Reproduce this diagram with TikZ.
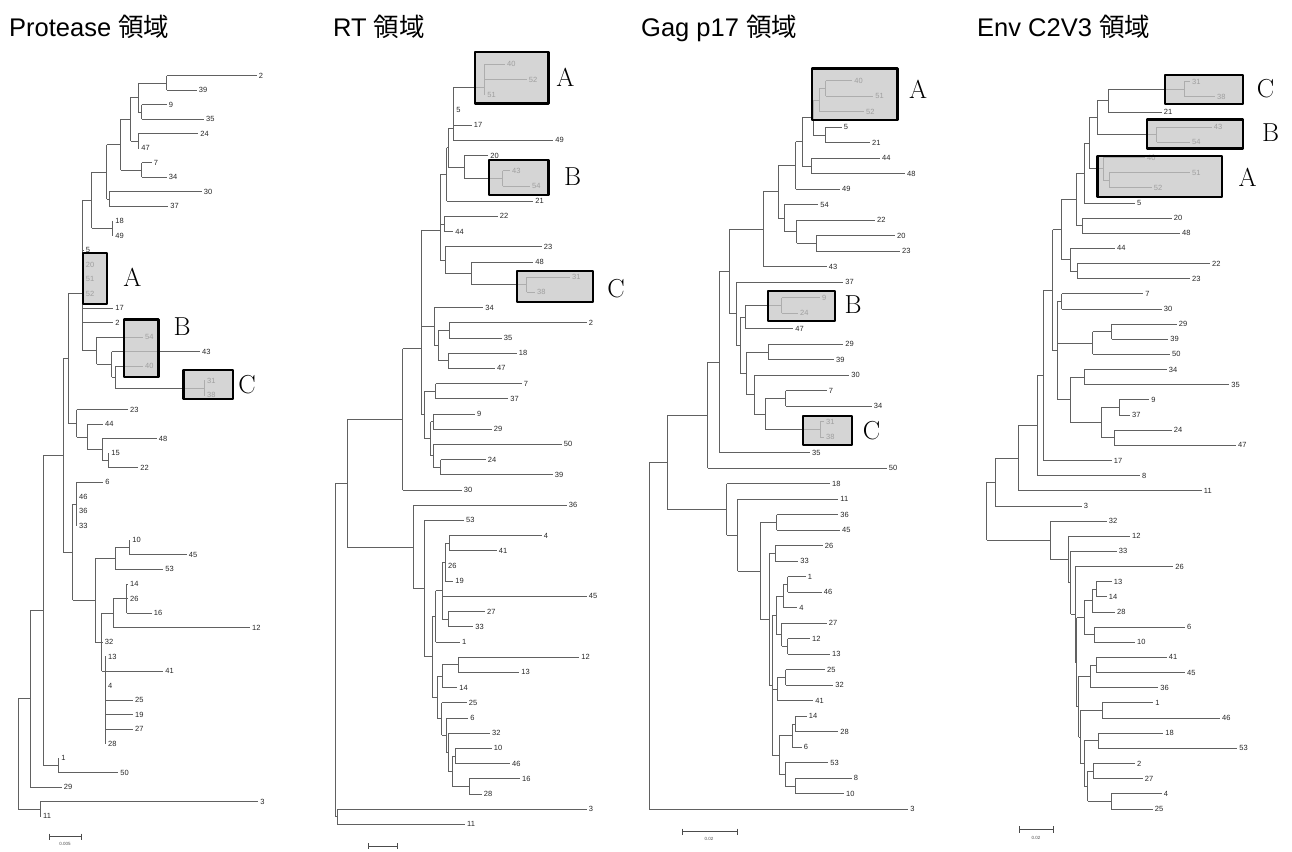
\documentclass[tikz,border=0pt]{standalone}
\usepackage{fontspec}
\setsansfont{Liberation Sans}
\newfontfamily\jpfont{Noto Sans CJK JP}
\usepackage{tikz}

% one tip per entry: x of parent / x of tip / row / label
\newcommand{\tipset}[1]{%
  \foreach \xa/\xb/\i/\t in {#1}{\draw[branch] (\xa,\i) -- (\xb,\i) node[tip] (\tree-\i) {\t};}}
% one clade per entry: x / first row / last row / stem row / x of parent
\newcommand{\cladeset}[1]{%
  \foreach \x/\ya/\yb/\ys/\xp in {#1}{\draw[branch] (\x,\ya) -- (\x,\yb) (\xp,\ys) -- (\x,\ys);}}
\newcommand{\ryoiki}{{\jpfont 領域}}

\begin{document}
\begin{tikzpicture}[x=1pt,y=-1pt,line join=round,
    branch/.style={draw=black!62,line width=0.75pt},
    tip/.style={anchor=west,inner sep=1.8pt,text=black!85,font=\sffamily\fontsize{7.5}{8}\selectfont},
    cladebox/.style={draw=black,line width=2.4pt,fill=black!22,fill opacity=0.75},
    cladeletter/.style={font=\rmfamily\fontsize{26}{26}\selectfont},
    paneltitle/.style={anchor=base west,inner sep=0pt,font=\sffamily\fontsize{25.5}{26}\selectfont},
    scalebar/.style={|-|,draw=black!70,line width=0.6pt},
    scalelabel/.style={inner sep=0pt,text=black!70,font=\sffamily\fontsize{4.5}{5}\selectfont}]
  \useasboundingbox (0,0) rectangle (1292,851);
  % panel titles
  \node[paneltitle] (t1) at (9,37)   {Protease \ryoiki};
  \node[paneltitle] (t2) at (333,37) {RT \ryoiki};
  \node[paneltitle] (t3) at (641,37) {Gag p17 \ryoiki};
  \node[paneltitle] (t4) at (977,37) {Env C2V3 \ryoiki};

  % Protease tree
  \begin{scope}[yshift=-75.7pt,y=-14.52pt]
    \def\tree{pr}
    \tipset{166.7/256.7/0/2, 166.7/196.7/1/39, 141.7/166.7/2/9, 141.7/204/3/35, 138.3/198.3/4/24,
      138.3/139.3/5/47, 141.7/151.7/6/7, 141.7/166.7/7/34, 109/201.7/8/30, 109/168.3/9/37,
      112.3/113.3/10/18, 112.3/113.3/11/49, 82.7/83.7/12/5, 82.7/83.7/13/20, 82.7/83.7/14/51,
      82.7/83.7/15/52, 82.7/113.3/16/17, 82.7/113.3/17/2, 96.7/143/18/54, 111.7/200/19/43,
      115/143/20/40, 204/205/21/31, 204/205/22/38, 76.7/128/23/23, 87.7/103/24/44,
      102.3/156.7/25/48, 108.3/109.3/26/15, 108.3/138.3/27/22, 76/103.3/28/6, 76/77/29/46,
      76/77/30/36, 76/77/31/33, 129.3/130.3/32/10, 129.3/186.7/33/45, 115/163.3/34/53,
      126.7/128/35/14, 126.7/128/36/26, 126.7/151.7/37/16, 113.3/250/38/12, 101.7/102.7/39/32,
      105/106/40/13, 105/163.3/41/41, 105/106/42/4, 105/133/43/25, 105/133/44/19,
      105/133/45/27, 105/106/46/28, 58.3/59.3/47/1, 58.3/118.3/48/50, 30/61.7/49/29,
      40/258.3/50/3, 40/41/51/11}
    \cladeset{166.7/0/1/0.5/138.3, 141.7/2/3/2.5/138.3, 138.3/0.5/2.5/1.5/130.7, 138.3/4/5/4.5/130.7,
      130.7/1.5/4.5/3/120.7, 141.7/6/7/6.5/120.7, 120.7/3/6.5/4.75/106.7, 109/8/9/8.5/106.7,
      106.7/4.75/8.5/6.625/91.7, 112.3/10/11/10.5/91.7, 91.7/6.625/10.5/8.5625/82.7,
      204/21/22/21.5/115, 115/20/21.5/20.75/111.7, 111.7/19/20.75/19.875/96.7,
      96.7/18/19.875/18.9375/82.7, 82.7/8.5625/18.9375/14.97/68.3, 108.3/26/27/26.5/102.3,
      102.3/25/26.5/25.75/87.7, 87.7/24/25.75/24.875/76.7, 76.7/23/24.875/23.94/68.3,
      68.3/14.97/23.94/19.46/63.3, 76/28/31/29.5/72.7, 129.3/32/33/32.5/115,
      115/32.5/34/33.25/95, 126.7/35/37/36/113.3, 113.3/36/38/37/101.7, 105/40/46/41/101.7,
      101.7/37/41/39/95, 95/33.25/39/36.125/72.7, 72.7/29.5/36.125/32.81/63.3,
      63.3/19.46/32.81/26.14/43.3, 58.3/47/48/47.5/43.3, 43.3/26.14/47.5/36.82/30,
      30/36.82/49/42.91/18.3, 40/50/51/50.5/18.3, 18.3/42.91/50.5/46.7/18.3}
  \end{scope}

  % RT tree
  \begin{scope}[yshift=-64.3pt,y=-15.2pt]
    \def\tree{rt}
    \tipset{484.3/505/0/40, 484.3/526.7/1/52, 484.3/485.3/2/51, 453.3/454.3/3/5, 453.3/471.7/4/17,
      453.3/553.3/5/49, 464/488.3/6/20, 502.7/510/7/43, 502.7/530/8/54, 446.7/533.3/9/21,
      444.3/497.7/10/22, 444.3/453.3/11/44, 445/541.7/12/23, 471.7/533.3/13/48, 526.7/570/14/31,
      526.7/535/15/38, 434.3/483.3/16/34, 449.3/586.7/17/2, 449.3/501.7/18/35, 448.3/516.7/19/18,
      448.3/495/20/47, 435.7/521.7/21/7, 435.7/508.3/22/37, 433.3/475/23/9, 433.3/491.7/24/29,
      433.3/561.7/25/50, 440.7/485.7/26/24, 440.7/552.7/27/39, 402.7/461.7/28/30, 413.3/566.7/29/36,
      424.3/464/30/53, 449/541.7/31/4, 449/496.7/32/41, 445/446/33/26, 445/453.3/34/19,
      442.3/586.7/35/45, 448.3/485/36/27, 448.3/473.3/37/33, 435.7/460/38/1, 458.3/579.3/39/12,
      458.3/519.3/40/13, 442.3/457.3/41/14, 441.7/466.7/42/25, 446/468.3/43/6, 448.3/490/44/32,
      455/491.7/45/10, 455/510/46/46, 469.3/520/47/16, 469.3/481.7/48/28, 337.3/586.7/49/3,
      337.3/465/50/11}
    \cladeset{484.3/0/2/1.5/453.3, 453.3/1.5/5/4.2/448.3, 502.7/7/8/7.5/464, 464/6/7.5/6.75/448.3,
      448.3/4.2/6.75/5.475/446.7, 446.7/5.475/9/7.24/440, 444.3/10/11/10.5/440,
      526.7/14/15/14.5/471.7, 471.7/13/14.5/13.75/445, 445/12/13.75/12.875/440,
      440/7.24/12.875/10.9/421.7, 449.3/17/18/17.5/438.3, 448.3/19/20/19.5/438.3,
      438.3/17.5/19.5/18.5/434.3, 434.3/16/18.5/17.25/421.7, 435.7/21/22/21.5/424.3,
      433.3/23/24/23.5/430.7, 440.7/26/27/26.5/433.3, 433.3/25/26.5/25.75/430.7,
      430.7/23.5/25.75/24.625/424.3, 424.3/21.5/24.625/23.06/421.7, 421.7/10.9/23.06/18.7/402.7,
      402.7/18.7/28/23.35/347.3, 449/31/32/31.5/445, 445/31.5/34/32.75/442.3,
      448.3/36/37/36.5/442.3, 442.3/32.75/36.5/34.625/435.7, 435.7/34.625/38/36.31/432.3,
      458.3/39/40/39.5/442.3, 442.3/39.5/41/40.25/437.7, 455/45/46/45.5/452.3,
      469.3/47/48/47.5/452.3, 452.3/45.5/47.5/46.5/448.3, 448.3/44/46.5/45.25/446,
      446/43/45.25/44.125/441.7, 441.7/42/44.125/43.06/437.7, 437.7/40.25/43.06/41.66/432.3,
      432.3/36.31/41.66/38.98/424.3, 424.3/30/38.98/34.49/413.3, 413.3/29/34.49/31.75/347.3,
      347.3/23.35/31.75/27.55/335.7, 337.3/49/50/49.5/335.7, 335.7/27.55/49.5/38.5/335.7}
  \end{scope}

  % Gag p17 tree
  \begin{scope}[yshift=-80.7pt,y=-15.5pt]
    \def\tree{gag}
    \tipset{825.7/852.3/0/40, 825.7/873.3/1/51, 819/864/2/52, 825/841.7/3/5, 825/870/4/21,
      811.7/880/5/44, 811.7/905/6/48, 795.7/840/7/49, 784/818.3/8/54, 796.7/875/9/22,
      816/895/10/20, 816/900/11/23, 763.3/826.7/12/43, 736/843.3/13/37, 781.7/820/14/9,
      781.7/798/15/24, 745.3/793.3/16/47, 768.3/843.3/17/29, 768.3/834/18/39, 754.3/849.3/19/30,
      785.7/826.7/20/7, 785.7/871.7/21/34, 820/824/22/31, 820/824/23/38, 719.3/810/24/35,
      707.7/886.7/25/50, 726.7/830/26/18, 737.7/838.3/27/11, 776.7/838.3/28/36, 776.7/840/29/45,
      775/822.7/30/26, 775/798.3/31/33, 787.7/805.7/32/1, 787.7/821.7/33/46, 783.3/797.3/34/4,
      781.7/826.7/35/27, 787.7/810/36/12, 787.7/830/37/13, 785.7/825/38/25, 785.7/833.3/39/32,
      777.7/813.3/40/41, 795.7/806.7/41/14, 795.7/838.3/42/28, 792.3/801.7/43/6, 785/828.3/44/53,
      795/851.7/45/8, 795/844/46/10, 649/908.3/47/3}
    \cladeset{825.7/0/1/0.5/819, 819/0.5/2/1.25/813.3, 825/3/4/3.5/813.3, 813.3/1.25/3.5/2.375/802.3,
      811.7/5/6/5.5/802.3, 802.3/2.375/5.5/3.94/795.7, 795.7/3.94/7/5.47/778.3,
      816/10/11/10.5/796.7, 796.7/9/10.5/9.75/784, 784/8/9.75/8.875/778.3,
      778.3/5.47/8.875/7.17/763.3, 763.3/7.17/12/9.59/729, 781.7/14/15/14.5/745.3,
      745.3/14.5/16/15.25/740, 768.3/17/18/17.5/746.7, 785.7/20/21/20.5/765.3,
      820/22/23/22.5/765.3, 765.3/20.5/22.5/21.5/754.3, 754.3/19/21.5/20.25/746.7,
      746.7/17.5/20.25/18.875/740, 740/15.25/18.875/17.06/736, 736/13/17.06/15.03/729,
      729/9.59/15.03/12.31/719.3, 719.3/12.31/24/18.16/707.7, 707.7/18.16/25/21.58/667.3,
      776.7/28/29/28.5/760, 775/30/31/30.5/769.3, 787.7/32/33/32.5/783.3,
      783.3/32.5/34/33.25/776.7, 787.7/36/37/36.5/781.7, 781.7/35/36.5/35.75/776.7,
      776.7/33.25/35.75/34.5/772.3, 785.7/38/39/38.5/777.7, 777.7/38.5/40/39.25/772.3,
      795.7/41/42/41.5/792.3, 792.3/41.5/43/42.25/779.3, 795/45/46/45.5/785,
      785/44/45.5/44.75/779.3, 779.3/42.25/44.75/43.5/772.3, 772.3/34.5/43.5/39/769.3,
      769.3/30.5/39/34.75/760, 760/28.5/34.75/31.625/737.7, 737.7/27/31.625/29.31/726.7,
      726.7/26/29.31/27.66/667.3, 667.3/21.58/27.66/24.62/649, 649/24.62/47/35.8/649}
  \end{scope}

  % Env C2V3 tree
  \begin{scope}[yshift=-81.7pt,y=-15.15pt]
    \def\tree{env}
    \tipset{1184/1190/0/31, 1184/1215/1/38, 1108.3/1161.7/2/21, 1156.7/1211.7/3/43, 1156.7/1190/4/54,
      1103.3/1145/5/40, 1109.3/1190/6/51, 1109.3/1151.7/7/52, 1084.3/1135/8/5, 1082.3/1171.7/9/20,
      1082.3/1180/10/48, 1070/1115/11/44, 1077.3/1210/12/22, 1077.3/1190/13/23, 1061.7/1143.3/14/7,
      1061.7/1161.7/15/30, 1111.7/1176.7/16/29, 1111.7/1168.3/17/39, 1092.7/1170/18/50,
      1084/1166.7/19/34, 1084/1229.3/20/35, 1119/1149.3/21/9, 1119/1130/22/37, 1114/1171.7/23/24,
      1114/1236/24/47, 1043.3/1111.7/25/17, 1037.7/1140/26/8, 1018.3/1201.7/27/11, 995/1081.7/28/3,
      1050.7/1106.7/29/32, 1068.3/1130/30/12, 1070.7/1116.7/31/33, 1075/1173.3/32/26,
      1096/1111.7/33/13, 1096/1106.7/34/14, 1092.3/1115/35/28, 1094/1185/36/6, 1094/1135/37/10,
      1096.7/1166.7/38/41, 1096.7/1185/39/45, 1090/1158.3/40/36, 1102.3/1153.3/41/1,
      1102.3/1220/42/46, 1098.3/1163.3/43/18, 1098.3/1237.3/44/53, 1093.3/1135/45/2,
      1093.3/1142.7/46/27, 1111/1161.7/47/4, 1111/1152.7/48/25}
    \cladeset{1184/0/1/0.5/1108.3, 1108.3/0.5/2/1.25/1097.3, 1156.7/3/4/3.5/1097.3,
      1097.3/1.25/3.5/2.375/1089.3, 1109.3/6/7/6.5/1103.3, 1103.3/5/6.5/5.75/1089.3,
      1089.3/2.375/5.75/4.06/1084.3, 1084.3/4.06/8/6.03/1076, 1082.3/9/10/9.5/1076,
      1076/6.03/9.5/7.77/1061.7, 1077.3/12/13/12.5/1070, 1070/11/12.5/11.75/1061.7,
      1061.7/7.77/11.75/9.76/1052.7, 1061.7/14/15/14.5/1057.5, 1111.7/16/17/16.5/1092.7,
      1092.7/16.5/18/17.25/1057.5, 1084/19/20/19.5/1070.7, 1119/21/22/21.5/1101.7,
      1114/23/24/23.5/1101.7, 1101.7/21.5/23.5/22.5/1070.7, 1070.7/19.5/22.5/21/1057.5,
      1057.5/14.5/21/17.75/1052.7, 1052.7/9.76/17.75/13.76/1043.3, 1043.3/13.76/25/19.38/1037.7,
      1037.7/19.38/26/22.69/1018.3, 1018.3/22.69/27/24.85/995, 995/24.85/28/26.42/986.7,
      1096/33/34/33.5/1092.3, 1092.3/33.5/35/34.25/1084.3, 1094/36/37/36.5/1084.3,
      1084.3/34.25/36.5/35.375/1076.5, 1096.7/38/39/38.5/1090, 1090/38.5/40/39.25/1078.5,
      1102.3/41/42/41.5/1080, 1098.3/43/44/43.5/1084.3, 1093.3/45/46/45.5/1087.7,
      1111/47/48/47.5/1087.7, 1087.7/45.5/47.5/46.5/1084.3, 1084.3/43.5/46.5/45/1080,
      1080/41.5/45/43.25/1078.5, 1078.5/39.25/43.25/41.25/1076.5, 1076.5/35.375/41.25/38.31/1075,
      1075/32/38.31/35.16/1070.7, 1070.7/31/35.16/33.08/1068.3, 1068.3/30/33.08/31.54/1050.7,
      1050.7/29/31.54/30.27/986.7, 986.7/26.42/30.27/28.3/986.7}
  \end{scope}

  % shaded clusters A, B, C
  \foreach \x/\y/\xe/\ye in {83/253/107/304, 124/319.3/158.3/376.7, 183.3/370/232.7/399,
      475/52.3/548.3/103.3, 489/160/548.3/195, 516.7/270.7/592.7/301.7,
      811.7/68.3/897.3/120, 768/290.7/835/320.7, 802.7/416/851.7/445,
      1165/75/1242.7/104, 1146.7/119.3/1242.7/148.3, 1097.3/156/1221.7/196.7}
    {\draw[cladebox] (\x,\y) rectangle (\xe,\ye);}
  \foreach \n/\x/\y/\lab in {prA/132.5/277.5/A, prB/182/326.7/B, prC/247/385/C,
      rtA/565.3/77/A, rtB/572.5/177/B, rtC/616/289/C,
      gagA/918/89.5/A, gagB/853/305/B, gagC/871.5/430.5/C,
      envC/1265.5/88.3/C, envB/1270.5/132.5/B, envA/1247.7/177.5/A}
    {\node[cladeletter] (\n) at (\x,\y) {\lab};}

  % scale bars
  \draw[scalebar] (49.3,836.7) -- (81.7,836.7);
  \node[scalelabel] (s1) at (65,844) {0.005};
  \draw[scalebar] (367.7,846) -- (397.3,846);
  \draw[scalebar] (681.7,831.7) -- (737.7,831.7);
  \node[scalelabel] (s3) at (709,838.5) {0.02};
  \draw[scalebar] (1019.3,829.3) -- (1054,829.3);
  \node[scalelabel] (s4) at (1036,837.5) {0.02};
\end{tikzpicture}
\end{document}
